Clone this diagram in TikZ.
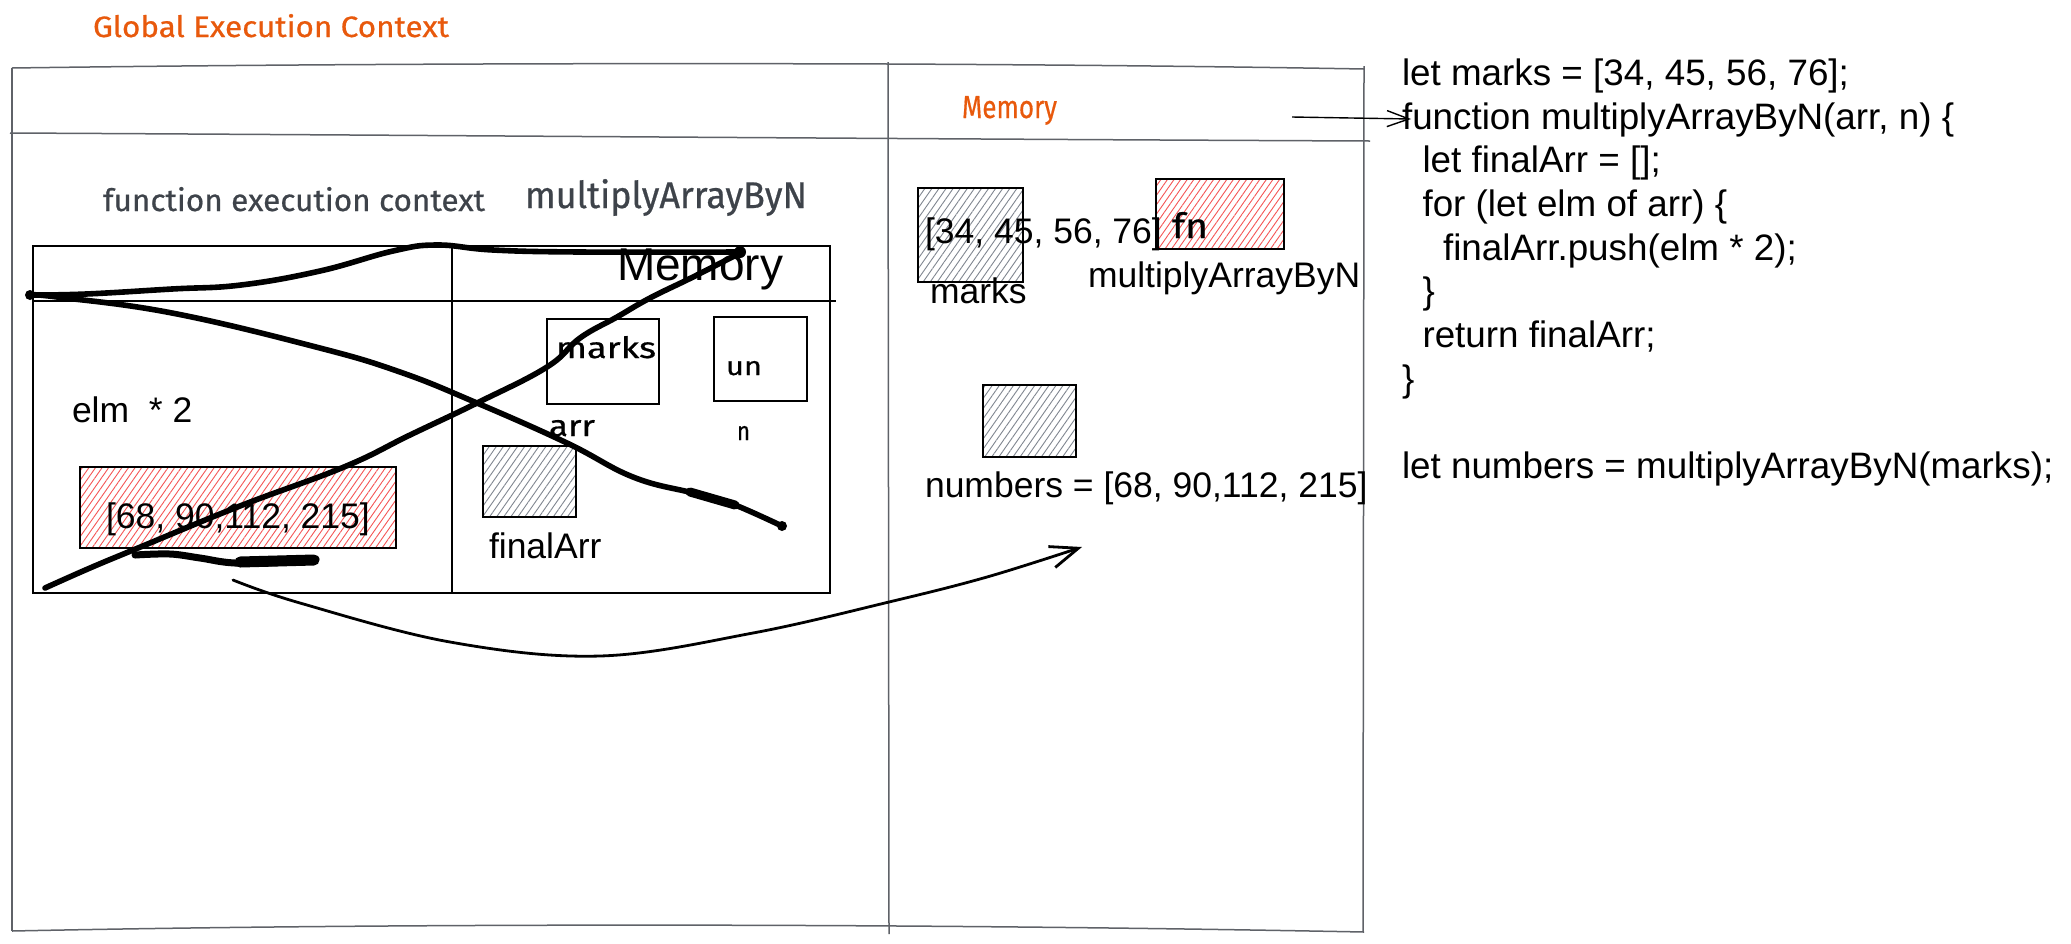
\documentclass[tikz,border=0pt]{standalone}
\usepackage{fontspec}
\setmainfont{Liberation Sans}
\newfontfamily\handfont[FakeBold=0.6]{Fira Sans}
\usepackage{graphicx}
\usetikzlibrary{arrows.meta,patterns.meta}
\definecolor{exorange}{RGB}{232,89,12}
\definecolor{handgray}{RGB}{62,67,74}
\definecolor{framegray}{RGB}{95,98,104}
\definecolor{hatchred}{RGB}{245,85,85}
\definecolor{hatchgray}{RGB}{128,134,144}
\newlength\pxu
\setlength\pxu{0.5pt}
\newcommand\fitwh[3]{\resizebox{#1\pxu}{#2\pxu}{#3}}
\begin{document}
\begin{tikzpicture}[x=0.5pt,y=-0.5pt,
  txt/.style={anchor=base west, inner sep=0pt, outer sep=0pt},
  body/.style={txt, font=\fontsize{17.75}{20}\selectfont},
  big/.style={txt, font=\fontsize{23}{26}\selectfont},
  code/.style={txt, font=\fontsize{18.4}{21}\selectfont},
  hand/.style={txt, font=\handfont\fontsize{16}{18}\selectfont},
  frame/.style={draw=framegray, line width=0.75pt},
  box/.style={draw=black, line width=0.9pt},
  thinline/.style={draw=black, line width=0.7pt},
  grayhatch/.style={pattern={Lines[angle=55,distance=2.9pt,line width=0.45pt]}, pattern color=hatchgray},
  redhatch/.style={pattern={Lines[angle=55,distance=2.7pt,line width=0.45pt]}, pattern color=hatchred},
  scrib/.style={draw=black, line width=2.8pt, line cap=round, line join=round},
  pen/.style={draw=black, line width=1.4pt, line cap=round}
]
\path[use as bounding box, fill=white] (0,0) rectangle (2071,943);

% ---------- outer frame ----------
\draw[frame] (12,68) .. controls (300,64) and (600,63) .. (888,64) .. controls (1100,65) and (1250,67) .. (1364,69);
\draw[frame] (10,133) .. controls (400,135) and (900,139) .. (1370,141);
\draw[frame] (12,68) -- (12,931);
\draw[frame] (1364,66) -- (1363,932);
\draw[frame] (888,62) -- (889,934);
\draw[frame] (12,931) .. controls (400,923) and (900,923) .. (1364,932);

% ---------- titles ----------
\node[hand, text=exorange] (gec) at (93,37) {\fitwh{356}{23}{Global Execution Context}};
\node[hand, text=exorange] (gmem) at (962,118) {\fitwh{95}{22}{Memory}};
\node[hand, text=handgray] (fec) at (103,211) {\fitwh{382}{24}{function execution context}};
\node[hand, text=handgray] (fname) at (525,208) {\fitwh{282}{29}{multiplyArrayByN}};

% ---------- code ----------
\node[code] (c1) at (1402,85.3) {let marks = [34, 45, 56, 76];};
\node[code] (c2) at (1402,129) {function multiplyArrayByN(arr, n) \{};
\node[code] (c3) at (1422.5,172.7) {let finalArr = [];};
\node[code] (c4) at (1422.5,216.4) {for (let elm of arr) \{};
\node[code] (c5) at (1443,260.1) {finalArr.push(elm * 2);};
\node[code] (c6) at (1422.5,303.8) {\}};
\node[code] (c7) at (1422.5,347.5) {return finalArr;};
\node[code] (c8) at (1402,391.2) {\}};
\node[code] (c10) at (1402,478.6) {let numbers = multiplyArrayByN(marks);};

\coordinate (tarS) at (1292,117);
\coordinate (tarE) at (1411,119);
\draw[line width=0.7pt, -{Straight Barb[length=11pt,width=8pt]}] (tarS) -- (tarE);

% ---------- function execution context box ----------
\draw[draw=black, line width=1.3pt] (33,246) rectangle (830,593);
\draw[thinline] (452,246) -- (452,593);
\draw[thinline] (33,301) -- (836,301);
\node[big] (fmem) at (617,280) {Memory};
\node[body] (elm) at (72,422) {elm\ \ * 2};

\fill[redhatch] (80,467) rectangle (396,548);
\draw[draw=black, line width=1.3pt] (80,467) rectangle (396,548);
\node[body] (res) at (106,528) {[68, 90,112, 215]};

\draw[box] (547,319) rectangle (659,404);
\node[hand] (amarks) at (556,358) {\fitwh{100}{22}{marks}};
\draw[box] (714,317) rectangle (807,401);
\node[hand] (aun) at (726,375) {\fitwh{36}{14}{un}};
\node[hand] (aarr) at (549,436) {\fitwh{46}{16}{arr}};
\node[hand] (an) at (737,440) {\fitwh{13}{14}{n}};

\fill[grayhatch] (483,446) rectangle (576,517);
\draw[box] (483,446) rectangle (576,517);
\node[body] (fa) at (489,558) {finalArr};

% ---------- global memory ----------
\fill[grayhatch] (918,188) rectangle (1023,282);
\draw[box] (918,188) rectangle (1023,282);
\fill[redhatch] (1156,179) rectangle (1284,249);
\draw[box] (1156,179) rectangle (1284,249);
\node[body] (marr) at (925,243) {[34, 45, 56, 76]};
\node[hand] (fn) at (1172,238) {\fitwh{36}{26}{fn}};
\node[body] (mfn) at (1088,287) {multiplyArrayByN};
\node[body] (mmarks) at (930,303) {marks};

\fill[grayhatch] (983,385) rectangle (1076,457);
\draw[box] (983,385) rectangle (1076,457);
\node[body] (nums) at (925,497) {numbers = [68, 90,112, 215]};

% ---------- return arrow ----------
\coordinate (retS) at (233,580);
\coordinate (retE) at (1082,547);
\draw[pen, -{Straight Barb[length=14pt,width=11pt]}] plot[smooth, tension=0.6] coordinates {(retS) (300,603) (450,642) (600,656) (753,633) (889,602) (987,577) (retE)};

% ---------- scribbles ----------
\draw[scrib] plot[smooth, tension=0.7] coordinates {(30,295) (86,294) (172,289) (241,285) (320,271) (393,251) (437,245) (493,250) (580,252) (740,252)};
\draw[scrib] plot[smooth, tension=0.7] coordinates {(30,295) (57,297) (172,313) (316,347) (400,372) (477,403) (567,443) (633,477) (693,493) (730,503) (782,526)};
\draw[scrib] plot[smooth, tension=0.7] coordinates {(45,588) (90,568) (138,548) (240,506) (344,467) (410,435) (477,403) (547,367) (580,338) (617,317) (650,298) (693,277) (740,253)};
\draw[scrib, line width=4.5pt] (690,492) -- (735,505);
\draw[scrib, line width=3.5pt] plot[smooth, tension=0.6] coordinates {(135,555) (170,554) (200,558) (235,563) (290,562) (316,559)};
\draw[scrib, line width=5.5pt] (240,562) -- (314,560);
\fill (740,252) circle[radius=6];
\fill (30,295) circle[radius=5];
\fill (782,526) circle[radius=5];
\end{tikzpicture}
\end{document}
